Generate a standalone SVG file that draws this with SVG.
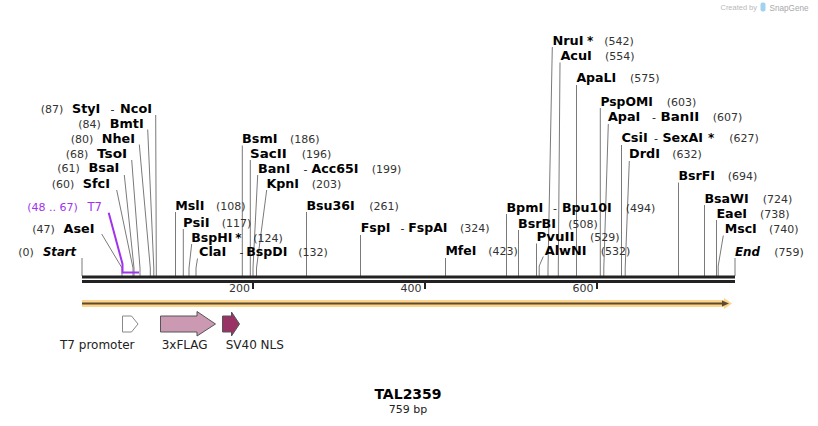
<svg xmlns="http://www.w3.org/2000/svg" width="818" height="426" viewBox="0 0 818 426">
<style>
text{font-family:"DejaVu Sans","Verdana",sans-serif;}
.n{font-size:12px;font-weight:bold;fill:#000;}
.ni{font-size:12px;font-weight:bold;font-style:italic;fill:#000;}
.p{font-size:11px;fill:#333;}
.d{font-size:11px;fill:#222;}
.f{font-size:12px;fill:#222;}
.t{font-size:11px;fill:#333;}
.pu{font-size:11px;fill:#a033ee;}
.pun{font-size:11.5px;fill:#a033ee;}
.l{stroke:#7a7a7a;stroke-width:1;fill:none;}
.bb{fill:#222;}
.wm{font-family:"Liberation Sans",Arial,sans-serif;}
</style>
<rect width="818" height="426" fill="#fff"/>

<g id="watermark">
<text class="wm" x="720.5" y="10" textLength="36.5" lengthAdjust="spacingAndGlyphs" style="font-size:8px;fill:#b8b8b8">Created by</text>
<rect x="760.5" y="2.5" width="5" height="9" rx="2" fill="#9fd3f0"/>
<text class="wm" x="769.5" y="11" textLength="39" lengthAdjust="spacingAndGlyphs" style="font-size:9px;fill:#a8a8a8">SnapGene</text>
</g>

<g id="connectors">
<line class="l" x1="82" y1="258" x2="82" y2="276"/>
<polyline class="l" points="101.7,234 122,268 122,276"/>
<polyline class="l" points="116.7,190 133,268 133,276"/>
<polyline class="l" points="124.3,175 134,268 134,276"/>
<polyline class="l" points="131.7,160 140,268 140,276"/>
<polyline class="l" points="139.3,144.5 150.3,268 150.3,276"/>
<polyline class="l" points="147.7,129.5 153.8,268 153.8,276"/>
<polyline class="l" points="155.7,115 156.3,268 156.3,276"/>
<line class="l" x1="175.5" y1="212" x2="175.5" y2="276"/>
<line class="l" x1="183.3" y1="229" x2="183.3" y2="276"/>
<polyline class="l" points="191.7,244 189,268 189,276"/>
<polyline class="l" points="197.5,258.5 196,268 196,276"/>
<line class="l" x1="242.3" y1="145.5" x2="242.3" y2="276"/>
<line class="l" x1="250.3" y1="160" x2="250.3" y2="276"/>
<polyline class="l" points="257.7,175 253,268 253,276"/>
<polyline class="l" points="266.7,190 256.5,268 256.5,276"/>
<line class="l" x1="306.5" y1="212" x2="306.5" y2="276"/>
<line class="l" x1="360.5" y1="235" x2="360.5" y2="276"/>
<line class="l" x1="445.5" y1="258" x2="445.5" y2="276"/>
<line class="l" x1="506.5" y1="214" x2="506.5" y2="276"/>
<line class="l" x1="518.5" y1="230" x2="518.5" y2="276"/>
<line class="l" x1="536.5" y1="243.5" x2="536.5" y2="276"/>
<polyline class="l" points="543.3,256.5 539.2,266 539.2,276"/>
<polyline class="l" points="552.3,47 548,268 548,276"/>
<polyline class="l" points="560,62.5 558.3,268 558.3,276"/>
<line class="l" x1="576.5" y1="85" x2="576.5" y2="276"/>
<line class="l" x1="600.3" y1="108" x2="600.3" y2="276"/>
<polyline class="l" points="608.3,124 603.8,268 603.8,276"/>
<line class="l" x1="621.5" y1="145" x2="621.5" y2="276"/>
<polyline class="l" points="629.3,161 625.2,268 625.2,276"/>
<line class="l" x1="678.5" y1="182.5" x2="678.5" y2="276"/>
<line class="l" x1="704.5" y1="205" x2="704.5" y2="276"/>
<line class="l" x1="716.5" y1="220" x2="716.5" y2="276"/>
<polyline class="l" points="723.3,235.5 718.2,266 718.2,276"/>
<line class="l" x1="735" y1="258" x2="735" y2="276"/>
<polyline points="108.7,212.7 122.5,264 122.5,272.5 139,272.5" fill="none" stroke="#a033ee" stroke-width="2"/>
</g>

<g id="backbone">
<rect class="bb" x="82" y="275.5" width="653" height="3"/>
<rect class="bb" x="82" y="280" width="653" height="3"/>
<rect class="bb" x="252" y="283" width="2" height="6"/>
<rect class="bb" x="424" y="283" width="2" height="6"/>
<rect class="bb" x="596" y="283" width="2" height="6"/>
<text class="t" x="250" y="292" text-anchor="end">200</text>
<text class="t" x="421.5" y="292" text-anchor="end">400</text>
<text class="t" x="593.5" y="292" text-anchor="end">600</text>
</g>

<g id="full-length-arrow">
<polygon points="82,300 724,300 724,298 732,303.5 724,309 724,307 82,307" fill="#fcd48a"/>
<line x1="82" y1="303.5" x2="724" y2="303.5" stroke="#5e4a32" stroke-width="2"/>
<polygon points="722,300.5 729,303.5 722,306.5" fill="#5e4a32"/>
</g>

<g id="Start"><text class="p" x="18.3" y="256">(0)</text><text class="ni" x="43" y="256" textLength="33" lengthAdjust="spacingAndGlyphs">Start</text></g>
<g id="AseI"><text class="p" x="32.3" y="233">(47)</text><text class="n" x="63.5" y="233" textLength="30.9" lengthAdjust="spacingAndGlyphs">AseI</text></g>
<g id="T7"><text class="pu" x="27.3" y="211">(48 .. 67)</text><text class="pun" x="87.5" y="211">T7</text></g>
<g id="SfcI"><text class="p" x="51.7" y="187.7">(60)</text><text class="n" x="82.8" y="187.7" textLength="27.2" lengthAdjust="spacingAndGlyphs">SfcI</text></g>
<g id="BsaI"><text class="p" x="57.3" y="172.3">(61)</text><text class="n" x="88.6" y="172.3" textLength="30.8" lengthAdjust="spacingAndGlyphs">BsaI</text></g>
<g id="TsoI"><text class="p" x="65.7" y="157.7">(68)</text><text class="n" x="97" y="157.7" textLength="30.1" lengthAdjust="spacingAndGlyphs">TsoI</text></g>
<g id="NheI"><text class="p" x="70.7" y="142.7">(80)</text><text class="n" x="101.8" y="142.7" textLength="33.2" lengthAdjust="spacingAndGlyphs">NheI</text></g>
<g id="BmtI"><text class="p" x="78.3" y="127.7">(84)</text><text class="n" x="109.8" y="127.7" textLength="33.9" lengthAdjust="spacingAndGlyphs">BmtI</text></g>
<g id="StyI-NcoI"><text class="p" x="40.7" y="112.7">(87)</text><text class="n" x="72" y="112.7" textLength="28.3" lengthAdjust="spacingAndGlyphs">StyI</text><text class="d" x="110.5" y="112.7">-</text><text class="n" x="120" y="112.7" textLength="32" lengthAdjust="spacingAndGlyphs">NcoI</text></g>

<g id="MslI"><text class="n" x="175.3" y="210" textLength="29.1" lengthAdjust="spacingAndGlyphs">MslI</text><text class="p" x="216" y="210">(108)</text></g>
<g id="PsiI"><text class="n" x="183" y="226.7" textLength="26.6" lengthAdjust="spacingAndGlyphs">PsiI</text><text class="p" x="221.7" y="226.7">(117)</text></g>
<g id="BspHI"><text class="n" x="191.3" y="241.7" textLength="41.2" lengthAdjust="spacingAndGlyphs">BspHI</text><text class="n" x="235.3" y="241.7">*</text><text class="p" x="253.3" y="241.7">(124)</text></g>
<g id="ClaI-BspDI"><text class="n" x="199" y="256" textLength="27.3" lengthAdjust="spacingAndGlyphs">ClaI</text><text class="d" x="239.5" y="256">-</text><text class="n" x="246.3" y="256" textLength="41.1" lengthAdjust="spacingAndGlyphs">BspDI</text><text class="p" x="298.3" y="256">(132)</text></g>
<g id="BsmI"><text class="n" x="242" y="143.3" textLength="35.5" lengthAdjust="spacingAndGlyphs">BsmI</text><text class="p" x="290" y="143.3">(186)</text></g>
<g id="SacII"><text class="n" x="250" y="157.7" textLength="36.7" lengthAdjust="spacingAndGlyphs">SacII</text><text class="p" x="301.7" y="157.7">(196)</text></g>
<g id="BanI-Acc65I"><text class="n" x="258" y="172.7" textLength="32.2" lengthAdjust="spacingAndGlyphs">BanI</text><text class="d" x="303.5" y="172.7">-</text><text class="n" x="311.5" y="172.7" textLength="47" lengthAdjust="spacingAndGlyphs">Acc65I</text><text class="p" x="371.7" y="172.7">(199)</text></g>
<g id="KpnI"><text class="n" x="266.4" y="187.7" textLength="32.7" lengthAdjust="spacingAndGlyphs">KpnI</text><text class="p" x="311.7" y="187.7">(203)</text></g>
<g id="Bsu36I"><text class="n" x="306.4" y="210" textLength="48.4" lengthAdjust="spacingAndGlyphs">Bsu36I</text><text class="p" x="369.3" y="210">(261)</text></g>
<g id="FspI-FspAI"><text class="n" x="360.7" y="232.3" textLength="29.8" lengthAdjust="spacingAndGlyphs">FspI</text><text class="d" x="400.5" y="232.3">-</text><text class="n" x="408.3" y="232.3" textLength="39.2" lengthAdjust="spacingAndGlyphs">FspAI</text><text class="p" x="460" y="232.3">(324)</text></g>
<g id="MfeI"><text class="n" x="445.4" y="255" textLength="30.9" lengthAdjust="spacingAndGlyphs">MfeI</text><text class="p" x="488.3" y="255">(423)</text></g>
<g id="BpmI-Bpu10I"><text class="n" x="506.4" y="211.7" textLength="36.8" lengthAdjust="spacingAndGlyphs">BpmI</text><text class="d" x="553" y="211.7">-</text><text class="n" x="562" y="211.7" textLength="49.7" lengthAdjust="spacingAndGlyphs">Bpu10I</text><text class="p" x="625.7" y="211.7">(494)</text></g>
<g id="BsrBI"><text class="n" x="518" y="227.7" textLength="37.9" lengthAdjust="spacingAndGlyphs">BsrBI</text><text class="p" x="568.3" y="227.7">(508)</text></g>
<g id="PvuII"><text class="n" x="536.4" y="241" textLength="38.2" lengthAdjust="spacingAndGlyphs">PvuII</text><text class="p" x="590" y="241">(529)</text></g>
<g id="AlwNI"><text class="n" x="544.7" y="255" textLength="41.9" lengthAdjust="spacingAndGlyphs">AlwNI</text><text class="p" x="600.7" y="255">(532)</text></g>
<g id="NruI"><text class="n" x="552.4" y="45" textLength="31.2" lengthAdjust="spacingAndGlyphs">NruI</text><text class="n" x="587" y="45">*</text><text class="p" x="604.3" y="45">(542)</text></g>
<g id="AcuI"><text class="n" x="560.4" y="60" textLength="31.5" lengthAdjust="spacingAndGlyphs">AcuI</text><text class="p" x="605" y="60">(554)</text></g>
<g id="ApaLI"><text class="n" x="576.4" y="82.3" textLength="39.9" lengthAdjust="spacingAndGlyphs">ApaLI</text><text class="p" x="630" y="82.3">(575)</text></g>
<g id="PspOMI"><text class="n" x="600.4" y="105.7" textLength="52.4" lengthAdjust="spacingAndGlyphs">PspOMI</text><text class="p" x="666.7" y="105.7">(603)</text></g>
<g id="ApaI-BanII"><text class="n" x="608" y="121" textLength="32.3" lengthAdjust="spacingAndGlyphs">ApaI</text><text class="d" x="652" y="121">-</text><text class="n" x="660.5" y="121" textLength="38.8" lengthAdjust="spacingAndGlyphs">BanII</text><text class="p" x="712.7" y="121">(607)</text></g>
<g id="CsiI-SexAI"><text class="n" x="621.4" y="142.3" textLength="26.4" lengthAdjust="spacingAndGlyphs">CsiI</text><text class="d" x="654" y="142.3">-</text><text class="n" x="662.5" y="142.3" textLength="40.4" lengthAdjust="spacingAndGlyphs">SexAI</text><text class="n" x="708" y="142.3">*</text><text class="p" x="729.3" y="142.3">(627)</text></g>
<g id="DrdI"><text class="n" x="629" y="158.3" textLength="30.9" lengthAdjust="spacingAndGlyphs">DrdI</text><text class="p" x="672.3" y="158.3">(632)</text></g>
<g id="BsrFI"><text class="n" x="678.4" y="180" textLength="36.6" lengthAdjust="spacingAndGlyphs">BsrFI</text><text class="p" x="727.7" y="180">(694)</text></g>
<g id="BsaWI"><text class="n" x="704.4" y="202.7" textLength="44.4" lengthAdjust="spacingAndGlyphs">BsaWI</text><text class="p" x="762.7" y="202.7">(724)</text></g>
<g id="EaeI"><text class="n" x="716.4" y="217.7" textLength="30.7" lengthAdjust="spacingAndGlyphs">EaeI</text><text class="p" x="760" y="217.7">(738)</text></g>
<g id="MscI"><text class="n" x="724.7" y="233.3" textLength="32.1" lengthAdjust="spacingAndGlyphs">MscI</text><text class="p" x="769" y="233.3">(740)</text></g>
<g id="End"><text class="ni" x="735" y="255.7" textLength="25" lengthAdjust="spacingAndGlyphs">End</text><text class="p" x="774.3" y="255.7">(759)</text></g>

<g id="T7-promoter">
<polygon points="122.5,316 131.5,316 138,324 131.5,332 122.5,332" fill="#fff" stroke="#888" stroke-width="1"/>
<text class="f" x="60" y="349">T7 promoter</text>
</g>
<g id="3xFLAG">
<polygon points="160.5,316 197,316 197,311.5 215.5,324 197,336 197,332 160.5,332" fill="#cc99b3" stroke="#555" stroke-width="1"/>
<text class="f" x="161.7" y="349">3xFLAG</text>
</g>
<g id="SV40-NLS">
<polygon points="222.5,316 231.5,316 231.5,312 239.5,324 231.5,336 231.5,332 222.5,332" fill="#993366" stroke="#555" stroke-width="1"/>
<text class="f" x="225.7" y="349">SV40 NLS</text>
</g>

<g id="title">
<text x="408" y="399" text-anchor="middle" style="font-size:14px;font-weight:bold;fill:#000">TAL2359</text>
<text x="408" y="413" text-anchor="middle" style="font-size:11px;fill:#222">759 bp</text>
</g>
</svg>
